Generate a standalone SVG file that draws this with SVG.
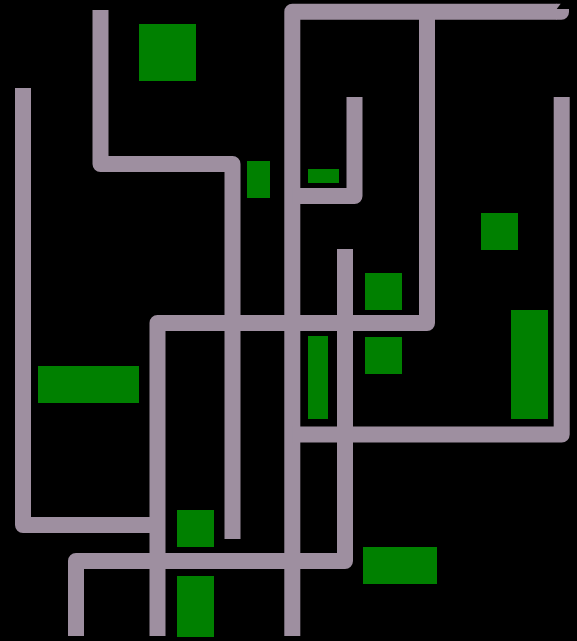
<svg xmlns="http://www.w3.org/2000/svg" width="577" height="641" viewBox="0 0 577 641">
<style>
.w{fill:none;stroke:#9e8fa0;stroke-width:16;stroke-linejoin:round;stroke-linecap:butt}
.g{fill:#008000}
</style>
<rect x="0" y="0" width="577" height="641" fill="#000"/>
<g id="walls">
<path class="w" d="M23,88 V525 H157.5"/>
<path class="w" d="M100.5,10 V164 H232.5 V539"/>
<path class="w" d="M292.3,636 V11.7 H556.5"/>
<path d="M556,3.7 H560.7 L556.7,9 H569 V12 A7.6,7.6 0 0 1 561.4,19.7 H556 Z" fill="#9e8fa0"/>
<path class="w" d="M427,11.7 V323 H157.5 V636"/>
<path class="w" d="M354.5,97 V196 H292.3"/>
<path class="w" d="M561.7,97 V434.5 H292.3"/>
<path class="w" d="M345,249 V561 H76 V636"/>
</g>
<g id="blocks">
<rect class="g" x="139" y="24" width="57" height="57"/>
<rect class="g" x="247" y="161" width="23" height="37"/>
<rect class="g" x="308" y="169" width="31" height="14"/>
<rect class="g" x="481" y="213" width="37" height="37"/>
<rect class="g" x="365" y="273" width="37" height="37"/>
<rect class="g" x="365" y="337" width="37" height="37"/>
<rect class="g" x="308" y="336" width="20" height="83"/>
<rect class="g" x="511" y="310" width="37" height="109"/>
<rect class="g" x="38" y="366" width="101" height="37"/>
<rect class="g" x="177" y="510" width="37" height="37"/>
<rect class="g" x="177" y="576" width="37" height="61"/>
<rect class="g" x="363" y="547" width="74" height="37"/>
</g>
</svg>
